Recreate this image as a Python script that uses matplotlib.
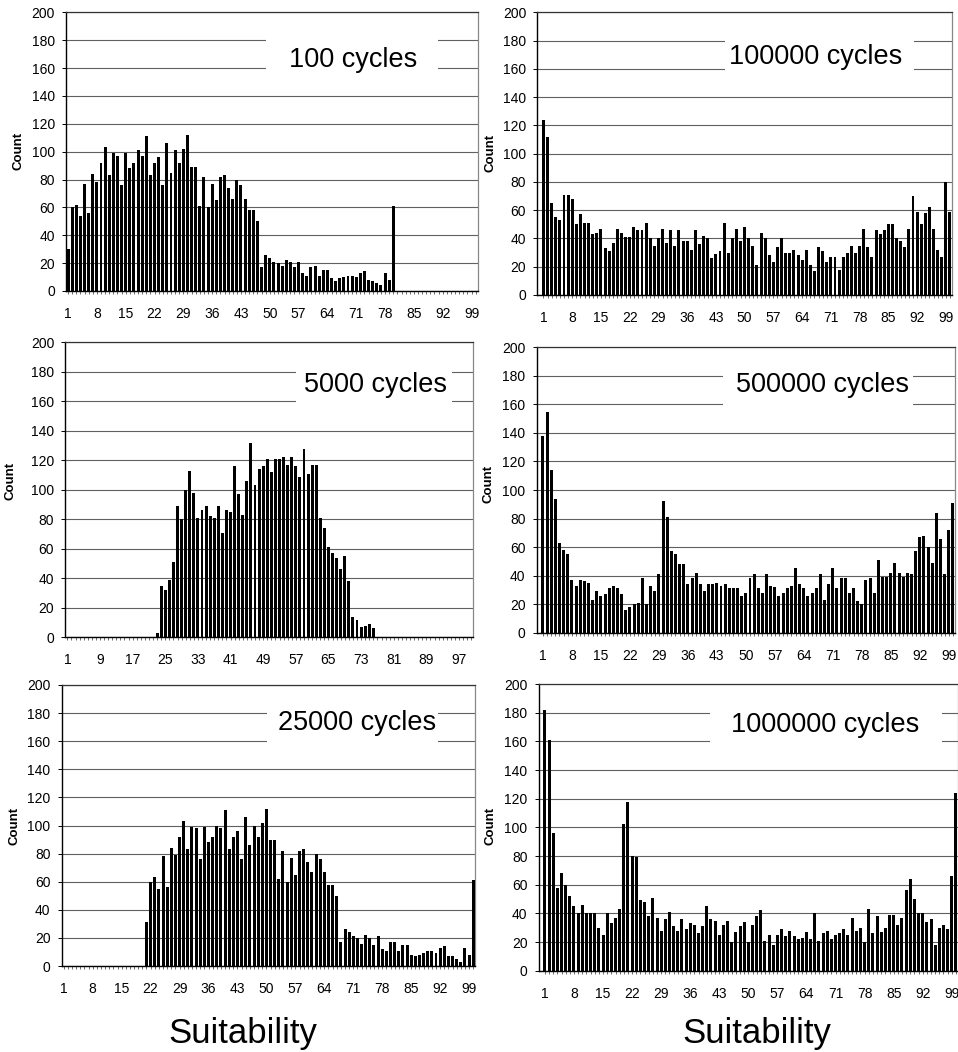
import matplotlib
matplotlib.use('Agg')
import matplotlib.pyplot as plt
from matplotlib.patches import Rectangle

plt.rcParams['font.family'] = ['Liberation Sans', 'DejaVu Sans']

# ---------------- data ----------------
suitability = list(range(1, 101))

counts_100 = [30, 60, 62, 54, 77, 56, 84, 78, 92, 103,
              83, 99, 97, 76, 99, 88, 92, 101, 97, 111,
              83, 92, 96, 76, 106, 85, 101, 92, 102, 112,
              89, 89, 61, 82, 60, 77, 65, 82, 83, 74,
              66, 80, 76, 66, 58, 58, 50, 17, 26, 24,
              21, 20, 18, 22, 21, 17, 21, 13, 11, 17,
              18, 11, 15, 15, 9, 7, 9, 10, 11, 11,
              10, 13, 14, 8, 7, 6, 4, 13, 8, 61,
              0, 0, 0, 0, 0, 0, 0, 0, 0, 0,
              0, 0, 0, 0, 0, 0, 0, 0, 0, 0]

counts_5000 = [0, 0, 0, 0, 0, 0, 0, 0, 0, 0,
               0, 0, 0, 0, 0, 0, 0, 0, 0, 0,
               0, 0, 3, 35, 32, 39, 51, 89, 80, 100,
               113, 98, 81, 86, 89, 82, 81, 89, 71, 86,
               85, 116, 97, 83, 106, 132, 103, 114, 116, 121,
               112, 121, 121, 122, 117, 122, 116, 109, 128, 111,
               117, 117, 81, 74, 61, 57, 54, 46, 55, 38,
               14, 12, 7, 8, 9, 6, 0, 0, 0, 0,
               0, 0, 0, 0, 0, 0, 0, 0, 0, 0,
               0, 0, 0, 0, 0, 0, 0, 0, 0, 0]

counts_25000 = [0, 0, 0, 0, 0, 0, 0, 0, 0, 0,
                0, 0, 0, 0, 0, 0, 0, 0, 0, 0,
                31, 60, 63, 55, 78, 56, 84, 79, 92, 103,
                83, 99, 98, 76, 99, 88, 92, 100, 98, 111,
                83, 92, 96, 76, 106, 86, 100, 92, 102, 112,
                90, 90, 62, 82, 60, 77, 65, 82, 83, 74,
                67, 80, 76, 67, 58, 58, 50, 17, 26, 24,
                21, 20, 16, 22, 20, 15, 21, 12, 11, 17,
                17, 11, 15, 15, 8, 7, 8, 9, 11, 11,
                9, 13, 14, 7, 7, 5, 3, 13, 8, 61]

counts_100000 = [124, 112, 65, 55, 53, 71, 71, 68, 50, 57,
                 51, 51, 43, 44, 47, 33, 31, 37, 47, 44,
                 41, 41, 48, 46, 46, 51, 40, 35, 40, 47,
                 37, 46, 35, 46, 38, 38, 32, 46, 36, 42,
                 40, 26, 29, 31, 51, 30, 40, 47, 38, 48,
                 40, 35, 21, 44, 40, 28, 23, 34, 40, 30,
                 30, 32, 28, 25, 32, 21, 17, 34, 31, 23,
                 27, 27, 18, 27, 30, 35, 30, 35, 47, 34,
                 27, 46, 43, 46, 50, 50, 40, 38, 34, 47,
                 70, 59, 50, 58, 62, 47, 32, 27, 80, 59]

counts_500000 = [138, 155, 114, 94, 63, 58, 55, 37, 33, 37,
                 36, 35, 23, 29, 26, 27, 31, 33, 31, 27,
                 16, 18, 20, 21, 38, 20, 33, 29, 41, 92,
                 81, 57, 55, 48, 48, 34, 38, 42, 34, 29,
                 34, 34, 35, 33, 34, 31, 31, 31, 26, 28,
                 38, 41, 31, 28, 41, 33, 32, 26, 28, 31,
                 33, 45, 34, 31, 26, 28, 31, 41, 23, 34,
                 45, 31, 38, 38, 28, 31, 22, 20, 37, 38,
                 28, 51, 39, 39, 42, 49, 42, 39, 42, 41,
                 57, 67, 68, 60, 49, 84, 66, 41, 72, 91]

counts_1000000 = [182, 161, 96, 58, 68, 60, 52, 45, 40, 46,
                  40, 40, 40, 30, 25, 40, 33, 37, 43, 102,
                  118, 80, 79, 49, 48, 38, 51, 37, 28, 36,
                  41, 31, 28, 36, 29, 33, 32, 26, 31, 45,
                  36, 35, 25, 32, 35, 20, 27, 31, 34, 20,
                  32, 38, 42, 21, 25, 18, 25, 29, 24, 28,
                  24, 22, 23, 27, 22, 40, 21, 26, 28, 22,
                  25, 26, 29, 25, 37, 28, 30, 20, 43, 26,
                  38, 27, 30, 39, 39, 32, 37, 56, 64, 50,
                  40, 40, 34, 36, 18, 30, 32, 29, 66, 124]

titles = ['100 cycles', '100000 cycles', '5000 cycles',
          '500000 cycles', '25000 cycles', '1000000 cycles']
series = [counts_100, counts_100000, counts_5000,
          counts_500000, counts_25000, counts_1000000]
tick_steps = [7, 7, 8, 7, 7, 7]
y_ticks = list(range(0, 201, 20))
x_label = 'Suitability'
y_label = 'Count'

# ---------------- layout (pixels) ----------------
W, H = 958, 1052
# axes: x0, x1, y0(top), y1(bottom), xlim
panels = [
    (66.0, 477.7, 12.3, 291.0, (0.5, 100.5)),
    (537.3, 952.0, 12.3, 295.0, (-0.5, 100.5)),
    (65.3, 473.3, 342.3, 637.3, (0.5, 100.5)),
    (536.7, 955.0, 347.3, 632.7, (-0.5, 100.5)),
    (61.7, 475.3, 685.0, 966.0, (0.5, 100.5)),
    (538.7, 958.0, 684.0, 970.7, (-0.5, 100.5)),
]
boxes = [(266, 438, 24, 84), (725, 914, 24, 84), (296, 452, 356, 416),
         (723, 913, 360, 420), (267, 438, 698, 756), (710, 942, 697, 757)]
title_pos = [(353, 60), (816, 57), (375, 385), (823, 385), (357, 723), (825, 725)]
ylabel_pos = [(18, 151), (490, 153), (10, 481), (489, 484), (15, 826), (490, 826)]
xlabel_pos = [(243, 1033), (757, 1033)]

fig = plt.figure(figsize=(W / 100, H / 100), dpi=100)


def fx(x):
    return x / W


def fy(y):
    return 1 - y / H


for i, (x0, x1, y0, y1, xl) in enumerate(panels):
    ax = fig.add_axes([fx(x0), fy(y1), (x1 - x0) / W, (y1 - y0) / H])
    ax.bar(suitability, series[i], width=0.72, color='black', zorder=3)
    ax.set_xlim(*xl)
    ax.set_ylim(0, 200)
    ax.set_yticks(y_ticks)
    ax.grid(axis='y', color='#606060', linewidth=0.8, zorder=1)
    ax.set_axisbelow(True)
    ax.set_xticks(suitability[::tick_steps[i]])
    ax.set_xticks(suitability, minor=True)
    ax.tick_params(axis='x', which='both', length=2.5, width=0.6,
                   color='#555555', labelsize=10, pad=9)
    ax.tick_params(axis='y', length=3, width=0.7, labelsize=10, pad=5)
    for s in ['left', 'bottom']:
        ax.spines[s].set_color('black')
        ax.spines[s].set_linewidth(1.0)
    ax.spines['top'].set_color('#333333')
    ax.spines['top'].set_linewidth(0.9)
    ax.spines['right'].set_color('#888888')
    ax.spines['right'].set_linewidth(0.9)

    bx0, bx1, by0, by1 = boxes[i]
    fig.add_artist(Rectangle((fx(bx0), fy(by1)), (bx1 - bx0) / W, (by1 - by0) / H,
                             transform=fig.transFigure, facecolor='white',
                             edgecolor='none', zorder=5))
    tx, ty = title_pos[i]
    fig.text(fx(tx), fy(ty), titles[i], ha='center', va='center',
             fontsize=19.5, zorder=6)
    lx, ly = ylabel_pos[i]
    fig.text(fx(lx), fy(ly), y_label, rotation=90, ha='center', va='center',
             fontsize=9.5, fontweight='bold')

for (sx, sy) in xlabel_pos:
    fig.text(fx(sx), fy(sy), x_label, ha='center', va='center', fontsize=25)

fig.savefig('out.png', dpi=100)
